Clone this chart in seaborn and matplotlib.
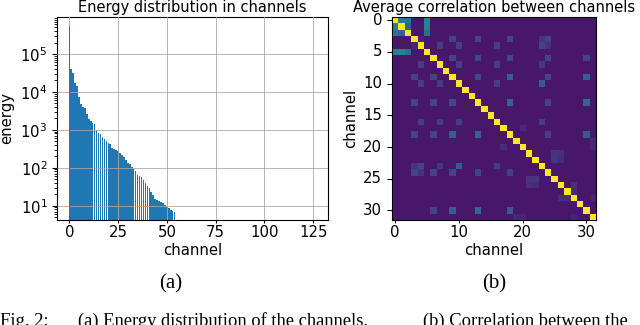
import numpy as np
import matplotlib
matplotlib.use('Agg')
import matplotlib.pyplot as plt
import seaborn as sns

plt.rcParams['font.family'] = ['DejaVu Sans']
plt.rcParams['font.size'] = 10.7

# energy per channel; the remaining channels up to 127 are empty
n_channels = 128
channels = list(range(55))
energy = [548000, 39400, 32100, 16900, 14300, 7200, 4800, 3930, 3760, 2610,
          1890, 1740, 1480, 1420, 990, 810, 775, 658, 561, 515,
          457, 422, 325, 306, 293, 272, 240, 216, 190, 160,
          135, 123, 106, 95, 83, 64, 60, 56, 47, 40,
          34, 29, 23, 19, 15, 14, 13.5, 12.7, 11.9, 10.4,
          9.0, 8.5, 7.7, 7.3, 6.9]
energy_xticks = [0, 25, 50, 75, 100, 125]

# average correlation between 32 channels
n_corr = 32
corr_background = 0.06
# (row, col, value), mirrored
corr_pairs = [(0, 1, 0.42), (0, 2, 0.38), (1, 2, 0.32), (0, 5, 0.44), (1, 5, 0.44), (2, 5, 0.36),
              (3, 9, 0.2), (3, 13, 0.2), (3, 18, 0.2), (3, 24, 0.2),
              (6, 9, 0.2), (6, 13, 0.2), (6, 18, 0.2), (6, 24, 0.2), (6, 30, 0.2),
              (9, 13, 0.22), (9, 24, 0.2), (13, 24, 0.2), (18, 24, 0.18),
              (9, 18, 0.3), (13, 18, 0.32), (13, 30, 0.33), (9, 30, 0.3), (18, 30, 0.28),
              (4, 7, 0.18), (4, 10, 0.18), (4, 16, 0.18), (4, 23, 0.2), (7, 10, 0.18),
              (7, 16, 0.18), (7, 23, 0.16), (10, 16, 0.18), (10, 23, 0.28), (16, 23, 0.18),
              (3, 23, 0.15), (4, 24, 0.15), (3, 4, 0.1),
              (21, 25, 0.15), (22, 25, 0.15), (21, 26, 0.14), (22, 26, 0.12),
              (26, 28, 0.14), (27, 28, 0.12), (17, 20, 0.12), (19, 31, 0.11),
              (20, 31, 0.1), (28, 31, 0.1)]
corr_ticks_x = [0, 10, 20, 30]
corr_ticks_y = [0, 5, 10, 15, 20, 25, 30]

corr = np.full((n_corr, n_corr), corr_background)
for i, j, v in corr_pairs:
    corr[i, j] = v
    corr[j, i] = v
np.fill_diagonal(corr, 1.0)

fig = plt.figure(figsize=(6.4, 3.25), dpi=100)
ax1 = fig.add_axes([57 / 640, 1 - 220 / 325, 271 / 640, 203 / 325])
ax2 = fig.add_axes([392 / 640, 1 - 220 / 325, 204 / 640, 203 / 325])

# (a) energy bars
sns.barplot(x=channels, y=energy, native_scale=True, color='#1f77b4', saturation=1,
            width=0.8, errorbar=None, ax=ax1)
ax1.set_yscale('log')
ax1.set_xlim(-6.3, n_channels + 4.6)
ax1.set_ylim(4.2, 9.4e5)
ax1.set_xticks(energy_xticks)
ax1.set_xticklabels([str(t) for t in energy_xticks])
ax1.grid(True, which='major', color='#a8a8a8', linewidth=0.7, alpha=0.85)
ax1.set_axisbelow(False)
# the tall first bar sits on the x=0 grid line, keep it on top
ax1.patches[0].set_zorder(3)
ax1.set_title('Energy distribution in channels', pad=3.5, fontsize=10.5)
ax1.set_xlabel('channel', labelpad=2)
ax1.set_ylabel('energy')
ax1.tick_params(axis='x', length=2.5, pad=1)

# (b) correlation heatmap
sns.heatmap(corr, cmap='viridis', vmin=0, vmax=1, cbar=False, ax=ax2)
for s in ax2.spines.values():
    s.set_visible(True)
    s.set_color('black')
ax2.set_xticks(np.array(corr_ticks_x) + 0.5)
ax2.set_xticklabels([str(t) for t in corr_ticks_x], rotation=0)
ax2.set_yticks(np.array(corr_ticks_y) + 0.5)
ax2.set_yticklabels([str(t) for t in corr_ticks_y], rotation=0)
ax2.tick_params(axis='x', length=2.5, pad=1)
ax2.set_title('Average correlation between channels', pad=3.5, fontsize=10.5)
ax2.set_xlabel('channel', labelpad=2)
ax2.set_ylabel('channel')

serif = 'Liberation Serif'
fig.text(170.5 / 640, 1 - 284 / 325, '(a)', family=serif, fontsize=15, ha='center', va='center')
fig.text(494 / 640, 1 - 284 / 325, '(b)', family=serif, fontsize=15, ha='center', va='center')
cap_y = 1 - 326 / 325
fig.text(0.0, cap_y, 'Fig. 2:', family=serif, fontsize=13.3, va='baseline')
fig.text(78 / 640, cap_y, '(a) Energy distribution of the channels.', family=serif,
         fontsize=13.3, va='baseline')
fig.text(423 / 640, cap_y, '(b) Correlation between the', family=serif,
         fontsize=13.3, va='baseline')

fig.savefig('out.png', dpi=100)
